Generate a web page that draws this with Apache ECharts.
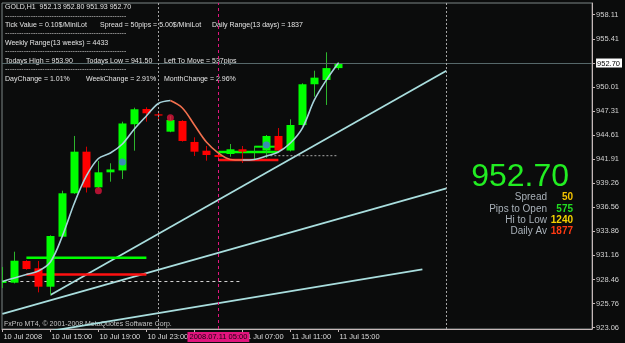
<!DOCTYPE html>
<html><head><meta charset="utf-8">
<script src="https://cdn.jsdelivr.net/npm/echarts@6/dist/echarts.min.js"></script>
<style>html,body{margin:0;padding:0;background:#0b0c0c}#c{width:625px;height:343px}</style>
</head><body><div id="c"></div>
<script>
// ---- data (bar index = position in arrays, H1 bars from 10 Jul 11:00) ----
const opens  = [928.07,928.10,930.53,929.71,927.65,933.25,938.11,942.77,938.78,940.46,940.67,945.84,947.55,946.95,945.01,946.21,943.86,942.88,942.40,942.51,943.04,942.70,942.90,944.53,942.90,945.76,950.32,950.80,952.13];
const closes = [928.29,930.56,929.63,927.65,933.33,938.11,942.77,938.76,940.46,940.78,945.93,947.52,947.07,946.90,946.32,943.97,942.77,942.40,942.18,943.04,942.77,942.77,944.53,942.90,945.76,950.32,951.06,952.13,952.70];
const lows   = [927.50,928.02,929.55,927.02,926.72,933.20,938.05,938.20,938.70,939.41,939.71,942.88,946.13,946.43,944.95,943.90,942.29,941.76,941.90,942.21,941.50,941.95,942.07,942.85,942.80,945.70,948.93,948.00,951.93];
const highs  = [929.86,931.57,930.62,930.53,933.40,938.40,944.53,943.33,941.73,941.47,946.13,947.70,947.74,947.33,946.77,946.30,944.38,943.41,942.50,943.63,943.41,943.41,944.64,945.42,946.40,950.43,951.84,953.90,952.80];
const maValues = [928.23,928.63,929.02,929.41,930.42,933.33,937.02,940.05,942.01,942.62,943.63,945.31,946.77,948.17,948.50,947.66,945.76,943.85,942.62,941.90,941.84,941.90,942.29,942.73,943.74,945.42,948.56,950.80,952.70];
const maTurnDown = 14, maTurnUp = 20;

const trendA = [[4, 926.72], [37, 951.84]];
const trendB = [[0, 924.60], [37, 938.65]];
const trendC = [[4, 922.69], [35, 929.60]];

const greenLine1 = [[2, 930.90], [12, 930.90]];
const redLine1   = [[2, 929.02], [12, 929.02]];
const whiteDash  = [[0, 928.23], [20, 928.23]];
const greenLine2 = [[18, 942.74], [23, 942.74]];
const redLine2   = [[18, 941.84], [23, 941.84]];
const greenLine3 = [[21, 943.33], [23, 943.33]];
const greyDotted = [[22, 942.32], [28, 942.32]];

const redDots  = [[8, 938.40], [14, 946.58]];
const blueDots = [[10, 941.62], [22, 943.52]];

const daySeparators = [13, 37];
const cursorBar = 18;
const cursorLabel = '2008.07.11 05:00';
const currentPrice = 952.70;

const timeTickBars = [0, 4, 8, 12, 16, 20, 24, 28];
const timeLabels = ['10 Jul 2008','10 Jul 15:00','10 Jul 19:00','10 Jul 23:00','11 Jul 03:00','11 Jul 07:00','11 Jul 11:00','11 Jul 15:00'];
const priceTicks = [923.06,925.76,928.46,931.16,933.86,936.56,939.26,941.91,944.61,947.31,950.01,952.70,955.41,958.11];

const infoLines = [
  ['GOLD,H1  952.13 952.80 951.93 952.70'],
  ['Tick Value = 0.10$/MiniLot', 'Spread = 50pips = 5.00$/MiniLot', 'Daily Range(13 days) = 1837'],
  ['Weekly Range(13 weeks) = 4433'],
  ['Todays High = 953.90', 'Todays Low = 941.50', 'Left To Move = 537pips'],
  ['DayChange = 1.01%', 'WeekChange = 2.91%', 'MonthChange = 2.96%']
];
const bigPrice = '952.70';
const statNames  = ['Spread', 'Pips to Open', 'Hi to Low', 'Daily Av'];
const statValues = ['50', '575', '1240', '1877'];
const copyright = 'FxPro MT4, \u00A9 2001-2008 MetaQuotes Software Corp.';

// ---- styling / layout ----
const FF = '"Liberation Sans", Arial, sans-serif';
const statColors = ['#f2c200', '#22dd22', '#f5d200', '#ff3a12'];
const cyan = '#a9dede';

const chart = echarts.init(document.getElementById('c'), null, {renderer: 'canvas'});

function seg(data, color, width, type) {
  return {type: 'line', data: data, symbol: 'none', silent: true, clip: true,
    lineStyle: {color: color, width: width, type: type || 'solid'}, z: 3};
}
const maUpA = maValues.map((v, i) => i <= maTurnDown ? [i, v] : [i, null]);
const maDown = maValues.map((v, i) => (i >= maTurnDown && i <= maTurnUp) ? [i, v] : [i, null]);
const maUpB = maValues.map((v, i) => i >= maTurnUp ? [i, v] : [i, null]);

const colX = [5, 100, 212];
const colX2 = [5, 86, 164];
const graphics = [];
const rowY = [7.5, 25, 43, 61, 79];
infoLines.forEach((row, r) => {
  row.forEach((t, k) => {
    const xs = r === 1 ? colX : colX2;
    graphics.push({type: 'text', x: xs[k], y: rowY[r], silent: true,
      style: {text: t, fill: '#e4e4e4', font: '7px ' + FF, verticalAlign: 'middle', align: 'left'}});
  });
  if (r < infoLines.length - 1) {
    graphics.push({type: 'text', x: 5, y: rowY[r] + 8.5, silent: true,
      style: {text: '-'.repeat(52), fill: '#cfcfcf', font: '7px ' + FF, verticalAlign: 'middle', align: 'left'}});
  }
});
graphics.push({type: 'text', x: 569, y: 177, silent: true,
  style: {text: bigPrice, fill: '#22ee22', font: '32px ' + FF, align: 'right', verticalAlign: 'middle'}});
const statY = [197.5, 209, 220, 231];
statNames.forEach((n, k) => {
  graphics.push({type: 'text', x: 547, y: statY[k], silent: true,
    style: {text: n, fill: '#a9b1b9', font: '10px ' + FF, align: 'right', verticalAlign: 'middle'}});
  graphics.push({type: 'text', x: 573, y: statY[k], silent: true,
    style: {text: statValues[k], fill: statColors[k], font: 'bold 10px ' + FF, align: 'right', verticalAlign: 'middle'}});
});
graphics.push({type: 'text', x: 4, y: 324.5, silent: true,
  style: {text: copyright, fill: '#c4c4c4', font: '7px ' + FF, align: 'left', verticalAlign: 'middle'}});

const option = {
  backgroundColor: '#0b0c0c',
  animation: false,
  grid: {left: 2, right: 29, top: 3, bottom: 14, show: true, borderColor: '#7d8585', borderWidth: 1},
  xAxis: {
    type: 'value', min: -0.033, max: 49.14,
    splitLine: {show: false},
    axisLine: {show: true, onZero: false, lineStyle: {color: '#c6b8b8'}},
    axisTick: {show: true, customValues: timeTickBars, length: 3, lineStyle: {color: '#c6b8b8'}},
    axisLabel: {show: true, customValues: timeTickBars, color: '#dadada', fontSize: 7.5, fontFamily: FF,
      align: 'left', margin: 4, padding: [0, 0, 0, 1],
      formatter: v => { const k = timeTickBars.indexOf(v); return k >= 0 ? timeLabels[k] : ''; }}
  },
  yAxis: {
    type: 'value', position: 'right', min: 922.914, max: 959.42,
    splitLine: {show: false},
    axisLine: {show: true, onZero: false, lineStyle: {color: '#c6b8b8'}},
    axisTick: {show: true, customValues: priceTicks, length: 3, lineStyle: {color: '#c6b8b8'}},
    axisLabel: {show: true, customValues: priceTicks, color: '#d2d2d2', fontSize: 7.5, fontFamily: FF, margin: 4,
      formatter: v => { const s = v.toFixed(2); return Math.abs(v - currentPrice) < 0.001 ? '{cur|' + s + '}' : s; },
      rich: {cur: {backgroundColor: '#ffffff', color: '#000000', fontSize: 7.5, fontFamily: FF, padding: [1, 2, 0, 1]}}}
  },
  graphic: graphics,
  series: [
    {type: 'line', data: [], silent: true, z: 1,
      markLine: {silent: true, symbol: ['none', 'none'], animation: false, label: {show: false},
        data: [
          {yAxis: currentPrice, lineStyle: {color: '#56686a', width: 1, type: 'solid'}},
          {xAxis: daySeparators[0], lineStyle: {color: '#a4a4a4', width: 1, type: [2, 2]}},
          {xAxis: daySeparators[1], lineStyle: {color: '#a4a4a4', width: 1, type: [2, 2]}},
          {xAxis: cursorBar, lineStyle: {color: '#e0157e', width: 1, type: [3, 3]},
            label: {show: true, position: 'start', formatter: cursorLabel, backgroundColor: '#e2147d',
              color: '#1c0010', fontSize: 7.5, fontFamily: FF, padding: [1, 2, 1, 2], distance: 3}}
        ]}},
    seg(trendA, cyan, 1.8),
    seg(trendB, cyan, 1.8),
    seg(trendC, cyan, 1.8),
    seg(whiteDash, '#d8d8d8', 1, [3, 3]),
    seg(greyDotted, '#a8a8a8', 1, [2, 2]),
    seg(greenLine1, '#00ff00', 2.5),
    seg(redLine1, '#ff1010', 2.5),
    seg(greenLine2, '#00ff00', 2.5),
    seg(greenLine3, '#00ff00', 2),
    seg(redLine2, '#ff1010', 2.5),
    {type: 'custom', z: 4, clip: true,
      data: opens.map((o, i) => [i, o, closes[i], lows[i], highs[i]]),
      encode: {x: 0, y: [1, 2, 3, 4]},
      renderItem: function (params, api) {
        const i = api.value(0), o = api.value(1), c = api.value(2), l = api.value(3), h = api.value(4);
        const pO = api.coord([i, o]), pC = api.coord([i, c]), pL = api.coord([i, l]), pH = api.coord([i, h]);
        const up = c > o;
        const x = Math.round(pO[0]) + 0.5;
        const top = Math.min(pO[1], pC[1]), bot = Math.max(pO[1], pC[1]);
        return {type: 'group', children: [
          {type: 'line', shape: {x1: x, y1: pH[1], x2: x, y2: pL[1]},
            style: {stroke: up ? '#2cb52c' : '#d40000', lineWidth: 1}},
          {type: 'rect', shape: {x: x - 4, y: top, width: 8, height: Math.max(bot - top, 1.2)},
            style: {fill: up ? '#00ff00' : '#ff0000'}}
        ]};
      }},
    Object.assign(seg(maUpA, '#a6d2da', 1.6), {smooth: 0.35, z: 5, connectNulls: false}),
    Object.assign(seg(maDown, '#f2704e', 1.6), {smooth: 0.35, z: 5, connectNulls: false}),
    Object.assign(seg(maUpB, '#a6d2da', 1.6), {smooth: 0.35, z: 5, connectNulls: false}),
    {type: 'scatter', data: redDots, symbolSize: 7, itemStyle: {color: '#dc143c'}, silent: true, z: 6},
    {type: 'scatter', data: blueDots, symbolSize: 7, itemStyle: {color: '#4a6fe0'}, silent: true, z: 6}
  ]
};
chart.setOption(option);
</script>
</body></html>
